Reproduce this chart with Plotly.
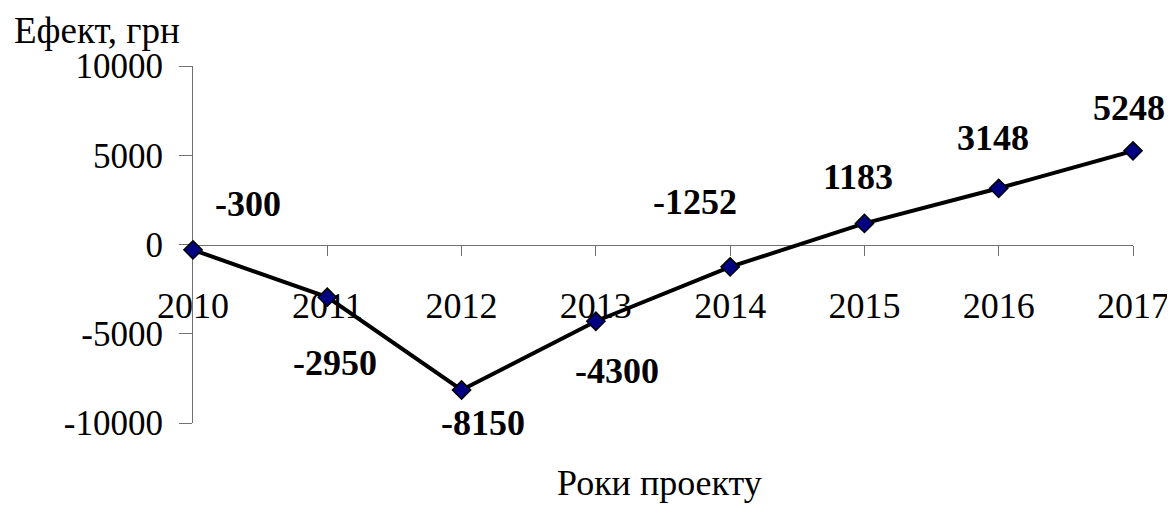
import plotly.graph_objects as go

years = [2010, 2011, 2012, 2013, 2014, 2015, 2016, 2017]
effect = [-300, -2950, -8150, -4300, -1252, 1183, 3148, 5248]
year_labels = [str(y) for y in years]
y_ticks = [-10000, -5000, 0, 5000, 10000]
y_tick_labels = ["-10000", "-5000", "0", "5000", "10000"]
# label offsets (pixels) relative to each point: (dx, dy up)
label_offsets = [(55, 46), (8, -66), (21, -33), (21, -50), (-35, 65), (-6, 46), (-6, 50), (-4, 43)]

FONT = "Liberation Serif"
AX = "#707070"

fig = go.Figure()
fig.add_trace(go.Scatter(
    x=years, y=effect, mode="lines+markers",
    line=dict(color="black", width=4),
    marker=dict(symbol="diamond", size=14, color="#000080",
                line=dict(color="black", width=1.5)),
    cliponaxis=False, showlegend=False, hoverinfo="x+y",
))

annotations = []
for yr, v, (dx, dy) in zip(years, effect, label_offsets):
    annotations.append(dict(
        x=yr, y=v, xref="x", yref="y", text=f"<b>{v}</b>", showarrow=False,
        xanchor="center", yanchor="middle", xshift=dx, yshift=dy,
        font=dict(family=FONT, size=36, color="black"),
    ))
annotations.append(dict(
    x=0, y=1, xref="paper", yref="paper", text="Ефект, грн", showarrow=False,
    xanchor="left", yanchor="middle", xshift=-181, yshift=36,
    font=dict(family=FONT, size=37, color="black"),
))
annotations.append(dict(
    x=0.5, y=0, xref="paper", yref="paper", text="Роки проекту", showarrow=False,
    xanchor="center", yanchor="bottom", xshift=-4, yshift=-82,
    font=dict(family=FONT, size=36, color="black"),
))

fig.update_layout(
    width=1159, height=497,
    margin=dict(l=185, r=34, t=58, b=82, autoexpand=False),
    paper_bgcolor="white", plot_bgcolor="white",
    font=dict(family=FONT, color="black"),
    annotations=annotations,
    xaxis=dict(
        range=[2010, 2017], tickvals=years, ticktext=year_labels,
        anchor="free", position=0.5, automargin=False,
        showline=True, linecolor=AX, linewidth=1,
        ticks="outside", ticklen=10, tickcolor=AX, tickwidth=1,
        showgrid=False, zeroline=False, layer="below traces",
        tickfont=dict(family=FONT, size=36, color="black"),
        ticklabelstandoff=19, ticklabeloverflow="allow",
    ),
    yaxis=dict(
        range=[-10000, 10000], tickvals=y_ticks, ticktext=y_tick_labels,
        automargin=False,
        showline=True, linecolor=AX, linewidth=1,
        ticks="outside", ticklen=13, tickcolor=AX, tickwidth=1,
        showgrid=False, zeroline=False, layer="below traces",
        tickfont=dict(family=FONT, size=35, color="black"),
        ticklabelstandoff=9,
    ),
)

fig.write_html("out.html", config={"displayModeBar": False})
